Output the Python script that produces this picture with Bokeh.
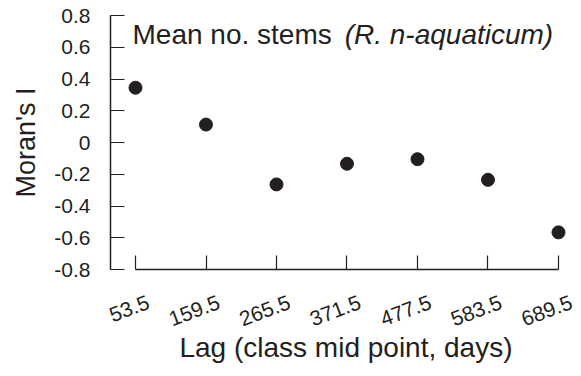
from bokeh.plotting import figure
from bokeh.models import Range1d, FixedTicker, Label, LinearAxis
from bokeh.embed import file_html
from bokeh.resources import INLINE

# Data
lags = [53.5, 159.5, 265.5, 371.5, 477.5, 583.5, 689.5]
lag_labels = ["53.5", "159.5", "265.5", "371.5", "477.5", "583.5", "689.5"]
morans_i = [0.345, 0.113, -0.264, -0.134, -0.105, -0.235, -0.566]
y_ticks = [-0.8, -0.6, -0.4, -0.2, 0.0, 0.2, 0.4, 0.6, 0.8]
y_tick_labels = ["-0.8", "-0.6", "-0.4", "-0.2", "0", "0.2", "0.4", "0.6", "0.8"]
title_plain = "Mean no. stems "
title_italic = "(R. n-aquaticum)"
x_label = "Lag (class mid point, days)"
y_label = "Moran's I"

INK = "#231f20"
FONT = "Liberation Sans"
LABEL_SHIFT = 19.5  # data units: rotated labels sit centred under their tick

p = figure(width=581, height=376, output_backend="svg", toolbar_location=None,
           x_range=Range1d(15.9, 724.1), y_range=Range1d(-0.8, 0.8),
           min_border_left=110, min_border_right=0, min_border_top=15,
           min_border_bottom=107)
p.outline_line_color = None
p.xgrid.visible = False
p.ygrid.visible = False
p.background_fill_color = "white"
p.border_fill_color = "white"

p.scatter(lags, morans_i, size=13, color=INK)

# x axis: line + ticks (ticks drawn as minor ticks, no labels)
xa = p.xaxis[0]
xa.ticker = FixedTicker(ticks=[], minor_ticks=lags)
xa.bounds = (lags[0], lags[-1])
xa.major_tick_line_color = None
xa.minor_tick_in = 14
xa.minor_tick_out = 0
xa.minor_tick_line_color = INK
xa.minor_tick_line_width = 1.2
xa.axis_line_color = INK
xa.axis_line_width = 1.5

# x axis: rotated tick labels and axis title
label_pos = [v + LABEL_SHIFT for v in lags]
xb = LinearAxis(ticker=FixedTicker(ticks=label_pos),
                major_label_overrides={pos: s for pos, s in zip(label_pos, lag_labels)})
xb.axis_line_color = None
xb.major_tick_line_color = None
xb.minor_tick_line_color = None
xb.major_tick_in = 0
xb.major_tick_out = 0
xb.major_label_orientation = 0.36
xb.major_label_standoff = 32
xb.major_label_text_font = FONT
xb.major_label_text_font_size = "21px"
xb.major_label_text_color = INK
xb.axis_label = x_label
xb.axis_label_text_font = FONT
xb.axis_label_text_font_style = "normal"
xb.axis_label_text_font_size = "28px"
xb.axis_label_text_color = INK
xb.axis_label_standoff = -4
p.add_layout(xb, "below")

ya = p.yaxis[0]
ya.ticker = FixedTicker(ticks=y_ticks)
ya.major_label_overrides = {t: s for t, s in zip(y_ticks, y_tick_labels)}
ya.major_tick_in = 14
ya.major_tick_out = 0
ya.minor_tick_line_color = None
ya.axis_line_color = INK
ya.axis_line_width = 1.5
ya.major_tick_line_color = INK
ya.major_tick_line_width = 1.2
ya.major_label_standoff = 20
ya.major_label_text_font = FONT
ya.major_label_text_font_size = "21px"
ya.major_label_text_color = INK
ya.axis_label = y_label
ya.axis_label_text_font = FONT
ya.axis_label_text_font_style = "normal"
ya.axis_label_text_font_size = "27px"
ya.axis_label_text_color = INK
ya.axis_label_standoff = 10

t1 = Label(x=49.0, y=0.683, text=title_plain, text_font=FONT, text_font_size="28px",
           text_color=INK, text_baseline="alphabetic", text_align="left")
t2 = Label(x=368.0, y=0.683, text=title_italic, text_font=FONT, text_font_size="28px",
           text_font_style="italic", text_color=INK, text_baseline="alphabetic",
           text_align="left")
p.add_layout(t1)
p.add_layout(t2)

open("out.html", "w").write(file_html(p, INLINE))
